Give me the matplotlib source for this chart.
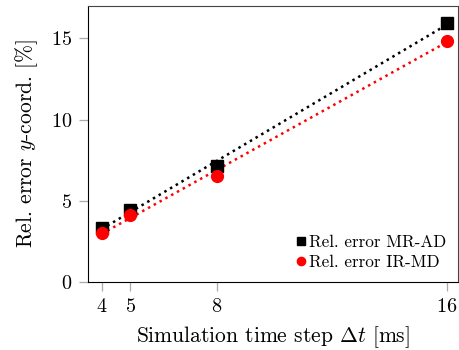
import matplotlib
matplotlib.use("Agg")
import matplotlib.pyplot as plt
import numpy as np

plt.rcParams['font.family'] = 'cmr10'
plt.rcParams['mathtext.fontset'] = 'cm'
plt.rcParams['axes.formatter.use_mathtext'] = True

# simulation time step [ms]
dt = np.array([4, 5, 8, 16])

# relative error y-coord [%]
err_mr_ad = np.array([3.33, 4.44, 7.12, 15.93])
err_ir_md = np.array([3.00, 4.13, 6.54, 14.86])

fig, ax = plt.subplots(figsize=(4.59, 3.5), dpi=100)

ax.plot(dt, err_mr_ad, 's', color='black', markersize=9, label='Rel. error MR-AD', zorder=3)
ax.plot(dt, err_ir_md, 'o', color='red', markersize=8.5, label='Rel. error IR-MD', zorder=3)

# linear fits
xf = np.array([dt.min(), dt.max()])
p = np.polyfit(dt, err_mr_ad, 1)
ax.plot(xf, np.polyval(p, xf), ':', color='black', lw=1.8)
p = np.polyfit(dt, err_ir_md, 1)
ax.plot(xf, np.polyval(p, xf), ':', color='red', lw=1.8)

ax.set_xlim(3.53, 16.4)
ax.set_ylim(0, 17)
ax.set_xticks(dt)
ax.set_yticks([0, 5, 10, 15])
ax.tick_params(direction='out', length=6.5, width=0.9, color='#aaaaaa', labelsize=14.5, pad=5)
for s in ['top', 'right']:
    ax.spines[s].set_color('#444444')

ax.set_xlabel(r'Simulation time step $\Delta t$ [ms]', fontsize=15.5, labelpad=6)
ax.set_ylabel(r'Rel. error $y$-coord. [%]', fontsize=15.5, labelpad=8)

ax.legend(loc='lower right', frameon=False, fontsize=12.3, handlelength=0.5,
          handletextpad=0.2, labelspacing=0.25, borderaxespad=0.3, markerscale=0.7)

fig.subplots_adjust(left=0.192, right=0.998, top=0.983, bottom=0.195)
plt.savefig('out.png', dpi=100)
